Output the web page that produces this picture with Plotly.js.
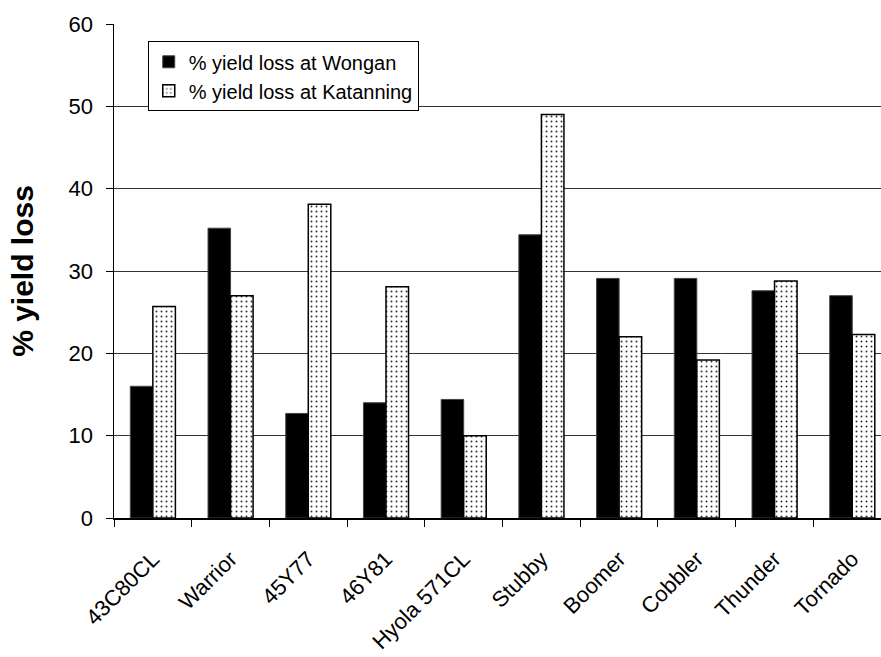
<!DOCTYPE html>
<html>
<head>
<meta charset="utf-8">
<script src="https://cdn.plot.ly/plotly-3.0.1.min.js"></script>
<style>
  html, body { margin: 0; padding: 0; background: #fff; }
  #chart { width: 881px; height: 657px; }
</style>
</head>
<body>
<div id="chart"></div>
<script>
const categories = ["43C80CL", "Warrior", "45Y77", "46Y81", "Hyola 571CL", "Stubby", "Boomer", "Cobbler", "Thunder", "Tornado"];
const wongan = [16.0, 35.2, 12.7, 14.0, 14.4, 34.4, 29.1, 29.1, 27.6, 27.0];
const katanning = [25.7, 27.0, 38.1, 28.1, 10.0, 49.0, 22.0, 19.2, 28.8, 22.3];
const seriesNames = ["% yield loss at Wongan", "% yield loss at Katanning"];
const yTicks = [0, 10, 20, 30, 40, 50, 60];

const FONT = "Liberation Sans, Arial, sans-serif";

const traces = [
  {
    type: "bar",
    name: seriesNames[0],
    x: categories,
    y: wongan,
    marker: { color: "#000000", line: { color: "#444444", width: 1 } },
    hoverinfo: "x+y"
  },
  {
    type: "bar",
    name: seriesNames[1],
    x: categories,
    y: katanning,
    marker: {
      color: "#ffffff",
      line: { color: "#000000", width: 1.5 },
      pattern: { shape: ".", fgcolor: "#333333", bgcolor: "#ffffff", size: 5, solidity: 0.12 }
    },
    hoverinfo: "x+y"
  }
];

const layout = {
  width: 881,
  height: 657,
  margin: { l: 114, r: 0, t: 24, b: 139, pad: 0 },
  paper_bgcolor: "#ffffff",
  plot_bgcolor: "#ffffff",
  font: { family: FONT, color: "#000000" },
  barmode: "group",
  bargap: 0.42,
  bargroupgap: 0,
  showlegend: true,
  legend: {
    x: 0.044, y: 0.965, xanchor: "left", yanchor: "top",
    bgcolor: "#ffffff", bordercolor: "#000000", borderwidth: 1,
    font: { family: FONT, size: 20, color: "#000000" },
    itemwidth: 30,
    tracegroupgap: 0
  },
  xaxis: {
    type: "category",
    range: [-0.5, 9.37],
    showgrid: false,
    showline: true, linecolor: "#000000", linewidth: 1.5,
    ticks: "outside", tickson: "boundaries", ticklen: 7, tickcolor: "#000000", tickwidth: 1,
    tickangle: -45,
    ticklabelstandoff: 18,
    tickfont: { family: FONT, size: 22, color: "#000000" },
    zeroline: false,
    fixedrange: true
  },
  yaxis: {
    range: [0, 60],
    tickvals: yTicks,
    ticktext: yTicks.map(String),
    showgrid: true, gridcolor: "#333333", gridwidth: 1,
    showline: true, linecolor: "#000000", linewidth: 1.5,
    ticks: "outside", ticklen: 7, tickcolor: "#000000", tickwidth: 1,
    ticklabelstandoff: 8,
    tickfont: { family: FONT, size: 22, color: "#000000" },
    zeroline: false,
    title: { text: "<b>% yield loss</b>", font: { family: FONT, size: 30, color: "#000000" }, standoff: 26 },
    fixedrange: true
  }
};

Plotly.newPlot("chart", traces, layout, { staticPlot: true, displayModeBar: false });
</script>
</body>
</html>
